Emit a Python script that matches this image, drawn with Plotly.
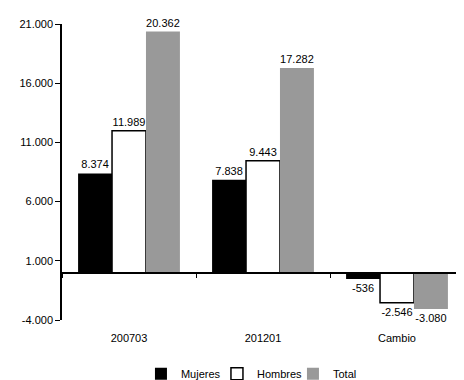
import plotly.graph_objects as go

categories = ["200703", "201201", "Cambio"]
mujeres = [8374, 7838, -536]
hombres = [11989, 9443, -2546]
total = [20362, 17282, -3080]

y_ticks = [-4000, 1000, 6000, 11000, 16000, 21000]
y_tick_labels = ["-4.000", "1.000", "6.000", "11.000", "16.000", "21.000"]

FONT = "Liberation Sans, Arial, sans-serif"
Y_MIN, Y_MAX = -4000, 21000


def fmt(v):
    return f"{v:,}".replace(",", ".")


fig = go.Figure()
fig.add_trace(go.Bar(name="Mujeres", x=categories, y=mujeres,
                     marker=dict(color="black", line=dict(width=0)),
                     text=[fmt(v) for v in mujeres]))
fig.add_trace(go.Bar(name="Hombres", x=categories, y=hombres,
                     marker=dict(color="white", line=dict(color="black", width=1.5)),
                     text=[fmt(v) for v in hombres]))
fig.add_trace(go.Bar(name="Total", x=categories, y=total,
                     marker=dict(color="#999999", line=dict(width=0)),
                     text=[fmt(v) for v in total]))
fig.update_traces(textposition="outside", cliponaxis=False,
                  textfont=dict(family=FONT, size=11, color="black"))

# invisible trace carrying the zero-level category axis
fig.add_trace(go.Scatter(x=categories, y=[0, 0, 0], xaxis="x2", mode="markers",
                         marker=dict(opacity=0), showlegend=False, hoverinfo="skip"))

zero_pos = (0 - Y_MIN) / (Y_MAX - Y_MIN)

# page body adds an 8px margin, so the figure is 8px smaller than the window
fig.update_layout(
    width=456, height=372,
    margin=dict(l=54, r=0, t=16, b=60, autoexpand=False),
    paper_bgcolor="white", plot_bgcolor="white",
    font=dict(family=FONT, size=11, color="black"),
    barmode="group", bargap=0.24, bargroupgap=0,
    uniformtext=dict(minsize=11, mode="show"),
    xaxis=dict(showline=False, ticks="", showgrid=False, zeroline=False, automargin=False,
               ticklabelstandoff=10,
               tickfont=dict(size=11), categoryorder="array", categoryarray=categories),
    xaxis2=dict(overlaying="x", anchor="free", position=zero_pos, matches="x",
                showline=True, linecolor="black", linewidth=1.5, automargin=False,
                ticks="outside", tickson="boundaries", ticklen=5, tickcolor="black",
                showticklabels=False, showgrid=False, zeroline=False),
    yaxis=dict(range=[Y_MIN, Y_MAX], tickvals=y_ticks, ticktext=y_tick_labels,
               showline=True, linecolor="black", linewidth=1.5, automargin=False,
               ticks="outside", ticklen=5, tickcolor="black",
               showgrid=False, zeroline=False, tickfont=dict(size=11)),
    legend=dict(orientation="h", x=0.48, xanchor="center", y=-0.182, yanchor="middle",
                font=dict(size=11), itemwidth=30, entrywidth=31, traceorder="normal"),
    showlegend=True,
)

fig.write_html("out.html")
